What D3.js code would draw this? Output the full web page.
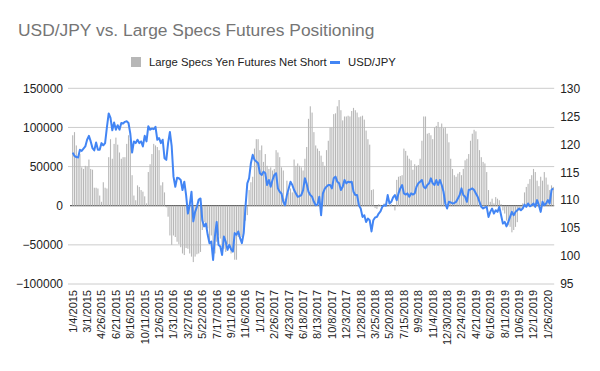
<!DOCTYPE html>
<html>
<head>
<meta charset="utf-8">
<script src="https://cdn.jsdelivr.net/npm/d3@7"></script>
<style>
  body { margin: 0; background: #fff; }
  text { font-family: Arial, "Liberation Sans", sans-serif; }
</style>
</head>
<body>
<svg id="chart" width="600" height="371"></svg>
<script>
// weekly data, first week 1/4/2015
const firstWeek = new Date(2015, 0, 4);

const tickLabels = ["1/4/2015", "3/1/2015", "4/26/2015", "6/21/2015", "8/16/2015", "10/11/2015", "12/6/2015",
    "1/31/2016", "3/27/2016", "5/22/2016", "7/17/2016", "9/11/2016", "11/6/2016",
    "1/1/2017", "2/26/2017", "4/23/2017", "6/18/2017", "8/13/2017", "10/8/2017", "12/3/2017",
    "1/28/2018", "3/25/2018", "5/20/2018", "7/15/2018", "9/9/2018", "11/4/2018", "12/30/2018",
    "2/24/2019", "4/21/2019", "6/16/2019", "8/11/2019", "10/6/2019", "12/1/2019", "1/26/2020"];

const leftTicks = [-100000, -50000, 0, 50000, 100000, 150000];
const rightTicks = [95, 100, 105, 110, 115, 120, 125, 130];

// Large Specs Yen Futures Net Short (contracts)
const netShort = [
    90000, 94000, 77000, 60000, 66000, 49000, 47000, 51000, 50000, 59000,
    47000, 46000, 23000, 23000, 22000, 13000, 5000, 30000, 23000, 22000,
    62000, 85000, 60000, 79000, 87000, 78000, 68000, 60000, 62000, 62000,
    79000, 90000, 85000, 39000, 13000, 7000, 26000, 24000, 20000, 18000,
    12000, 3000, 43000, 53000, 66000, 79000, 77000, 75000, 71000, 26000,
    30000, 17000,
    -2000, -14000, -38000, -50000, -38000, -40000, -46000, -49000, -53000, -61000,
    -63000, -54000, -55000, -61000, -65000, -72000, -65000, -62000, -61000, -59000,
    -31000, -21000, -27000, -29000, -44000, -38000, -59000, -61000, -46000, -38000,
    -42000, -53000, -55000, -59000, -49000, -53000, -61000, -57000, -69000, -69000,
    -40000, -38000, -40000, -34000, -19000, -12000,
    20000, 30000, 37000, 73000, 85000, 85000, 71000, 77000, 56000, 66000,
    51000, 47000, 49000, 45000, 47000, 71000, 68000, 62000, 49000, 45000,
    9000, 32000, 17000, 22000, 17000, 59000, 51000, 54000, 51000, 49000,
    45000, 60000, 75000, 111000,
    127000, 119000, 94000, 77000, 73000, 70000, 64000, 56000, 51000, 71000,
    83000, 100000, 100000, 117000, 118000, 127000, 135000, 122000, 109000, 114000,
    114000, 115000, 114000, 121000, 125000, 122000, 119000, 113000, 114000, 115000,
    110000, 96000, 85000, 78000, 20000, 21000,
    -3000, -4000, 2000, 1000, 0, 3000, 2000, -1000, 1000, 2000, 0, -6000,
    33000, 37000, 38000, 39000,
    73000, 70000, 64000, 60000, 58000, 46000, 53000, 51000, 52000, 60000,
    83000, 114000, 114000, 92000, 93000, 90000, 85000, 100000, 102000, 107000,
    100000, 105000, 99000, 100000, 92000, 81000, 60000, 47000, 39000, 37000,
    41000, 43000, 39000, 47000, 58000, 60000, 66000, 83000, 92000, 97000,
    95000, 85000, 71000, 62000, 56000, 54000, 43000, 20000,
    5000, 9000, 3000, 11000, 9000, 7000, 2000, -6000, -10000, -19000,
    -25000, -27000, -34000, -31000, -27000, -21000, -6000, -4000, 3000, 17000,
    24000, 28000, 34000, 39000, 47000, 43000, 32000, 25000, 37000, 32000,
    43000, 36000, 27000, 20000, 26000, 24000
];

// USD/JPY weekly close
const usdJpy = [
    118.5, 117.9, 117.7, 117.6, 119.0, 118.8, 119.2, 119.6, 120.8, 121.5,
    120.5, 119.3, 118.9, 120.3, 119.0, 119.0, 120.2, 119.8, 120.2, 123.0,
    125.5, 124.7, 122.5, 123.9, 122.6, 123.4, 122.6, 123.8, 123.7, 124.0,
    124.1, 123.8, 121.9, 118.5, 120.5, 120.2, 120.8, 120.2, 120.5, 119.6,
    121.5, 120.5, 123.2, 122.6, 122.8, 122.7, 123.1, 120.8, 121.1, 120.2,
    120.8, 117.5, 117.2, 120.2, 122.2, 119.6, 114.2, 112.4, 114.0, 113.9,
    113.6, 111.8, 113.3, 110.9, 107.6, 109.1, 111.5, 106.2, 107.9, 108.8,
    110.1, 110.3, 106.4, 105.3, 105.8, 103.8, 102.3, 102.6, 99.3, 103.5,
    106.1, 102.0, 101.7, 100.2, 103.5, 102.6, 101.1, 102.0, 101.2, 100.8,
    104.1, 103.8, 104.4, 103.2, 102.3, 104.1, 108.8, 113.0, 113.9, 116.6,
    118.1, 117.2, 116.9, 116.6, 114.8, 114.5, 115.1, 114.8, 112.7, 113.6,
    112.4, 113.6, 114.5, 114.8, 112.1, 111.5, 111.2, 109.7, 109.1, 110.9,
    112.1, 113.3, 112.7, 111.8, 111.2, 110.6, 110.7, 110.9, 111.8, 113.9,
    112.9, 111.5, 110.9, 110.6, 109.7, 109.1, 109.2, 110.6, 107.3, 111.2,
    112.0, 112.4, 112.7, 112.7, 112.1, 113.9, 114.2, 113.3, 113.0, 111.8,
    112.4, 113.6, 113.0, 113.3, 113.2, 113.3, 111.5, 110.9, 110.9, 109.1,
    108.5, 107.0, 107.3, 106.1, 106.7, 106.4, 104.4, 106.4, 106.9, 107.0,
    107.6, 108.0, 108.8, 109.1, 109.0, 110.9, 109.4, 109.7, 110.5, 110.9,
    110.0, 111.2, 112.1, 112.7, 111.2, 111.0, 111.2, 110.6, 111.2, 111.0,
    111.2, 112.4, 113.0, 113.3, 113.6, 112.4, 112.1, 112.7, 113.0, 113.9,
    113.0, 112.7, 113.6, 112.7, 113.6, 112.7, 111.5, 109.4, 108.5, 109.7,
    109.6, 109.4, 109.5, 109.7, 110.3, 110.9, 112.1, 110.9, 110.6, 109.7,
    111.8, 111.9, 112.1, 111.8, 111.2, 110.6, 109.7, 108.8, 108.5, 108.7,
    108.8, 107.0, 107.9, 108.5, 107.6, 108.2, 107.9, 108.8, 107.3, 105.8,
    106.1, 105.3, 106.1, 107.0, 107.9, 107.3, 107.9, 108.2, 108.5, 108.2,
    108.5, 109.2, 108.8, 109.4, 108.9, 109.1, 109.4, 108.8, 110.0, 109.1,
    107.9, 109.7, 109.1, 109.4, 110.0, 109.4, 111.8, 112.1
];

const fmt = d3.timeFormat("%-m/%-d/%Y");
const weeks = netShort.map((d, i) => fmt(d3.timeDay.offset(firstWeek, 7 * i)));

const svg = d3.select("#chart");
const plot = { left: 71.8, right: 554.2, top: 88.3, bottom: 284 };

const x = d3.scaleBand().domain(weeks).range([plot.left, plot.right]).padding(0);
const yLeft = d3.scaleLinear().domain([-100000, 150000]).range([plot.bottom, plot.top]);
const yRight = d3.scaleLinear().domain([95, 130]).range([plot.bottom, plot.top]);
const cx = w => x(w) + x.bandwidth() / 2;

// title
svg.append("text")
    .attr("x", 18).attr("y", 36)
    .attr("fill", "#757575")
    .style("font-size", "17.4px")
    .text("USD/JPY vs. Large Specs Futures Positioning");

// legend
const legend = svg.append("g");
legend.append("rect").attr("x", 131).attr("y", 57).attr("width", 10).attr("height", 10).attr("fill", "#b7b7b7");
legend.append("text").attr("x", 149).attr("y", 66).style("font-size", "11.3px").attr("fill", "#222")
    .text("Large Specs Yen Futures Net Short");
legend.append("line").attr("x1", 330).attr("x2", 340).attr("y1", 62.5).attr("y2", 62.5)
    .attr("stroke", "#4285f4").attr("stroke-width", 3);
legend.append("text").attr("x", 348).attr("y", 66).style("font-size", "11.3px").attr("fill", "#222")
    .text("USD/JPY");

// gridlines
svg.append("g").selectAll("line").data(leftTicks.filter(d => d !== 0)).enter().append("line")
    .attr("x1", 68).attr("x2", plot.right)
    .attr("y1", d => yLeft(d)).attr("y2", d => yLeft(d))
    .attr("stroke", "#cccccc").attr("stroke-width", 1);

// zero baseline (drawn below bars)
svg.append("line")
    .attr("x1", 70).attr("x2", plot.right)
    .attr("y1", yLeft(0)).attr("y2", yLeft(0))
    .attr("stroke", "#333").attr("stroke-width", 1);

// bars
svg.append("g").selectAll("rect").data(netShort).enter().append("rect")
    .attr("x", (d, i) => cx(weeks[i]) - 0.55)
    .attr("width", 1.1)
    .attr("y", d => yLeft(Math.max(0, d)))
    .attr("height", d => Math.abs(yLeft(d) - yLeft(0)))
    .attr("fill", "#b7b7b7");

// USD/JPY line
const line = d3.line()
    .x((d, i) => cx(weeks[i]))
    .y(d => yRight(d));

svg.append("path")
    .datum(usdJpy)
    .attr("d", line)
    .attr("fill", "none")
    .attr("stroke", "#4285f4")
    .attr("stroke-width", 2)
    .attr("stroke-linejoin", "round");

// axes
const leftAxis = d3.axisLeft(yLeft).tickValues(leftTicks).tickSize(0).tickPadding(6).tickFormat(d3.format("d"));
svg.append("g").attr("transform", "translate(69,0)").call(leftAxis)
    .call(g => g.select(".domain").remove())
    .selectAll("text").style("font-size", "12px").attr("fill", "#222");

const rightAxis = d3.axisRight(yRight).tickValues(rightTicks).tickSize(0).tickPadding(6);
svg.append("g").attr("transform", "translate(" + plot.right + ",0)").call(rightAxis)
    .call(g => g.select(".domain").remove())
    .selectAll("text").style("font-size", "12px").attr("fill", "#222");

const bottomAxis = d3.axisBottom(x).tickValues(tickLabels).tickSize(0);
svg.append("g").attr("transform", "translate(0,290)").call(bottomAxis)
    .call(g => g.select(".domain").remove())
    .selectAll("text")
    .style("font-size", "11px").attr("fill", "#222")
    .attr("text-anchor", "end")
    .attr("transform", "rotate(-90)")
    .attr("x", 0).attr("y", 0).attr("dy", "0.35em");
</script>
</body>
</html>
